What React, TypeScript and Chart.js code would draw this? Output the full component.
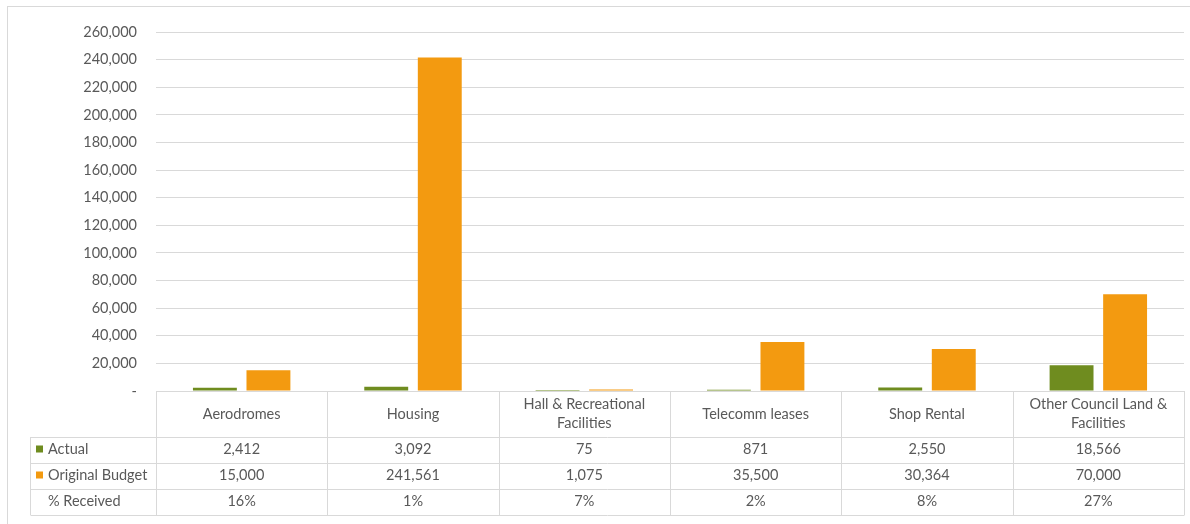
import React, { useEffect, useRef } from 'react';
import { Chart, registerables } from 'chart.js';

Chart.register(...registerables);

const categories = [
  'Aerodromes',
  'Housing',
  'Hall & Recreational Facilities',
  'Telecomm leases',
  'Shop Rental',
  'Other Council Land & Facilities',
];
const actual = [2412, 3092, 75, 871, 2550, 18566];
const originalBudget = [15000, 241561, 1075, 35500, 30364, 70000];
const percentReceived = [16, 1, 7, 2, 8, 27];
const seriesNames = ['Actual', 'Original Budget', '% Received'];

const GREEN = '#6F8C1F';
const ORANGE = '#F39A10';
const TEXT = '#595959';
const LINE = '#D9D9D9';
const FONT_SIZE = 14.5;
const FONT = FONT_SIZE + 'px Lato';

const fmt = (v: number) => v.toLocaleString('en-US');

function wrap(ctx: CanvasRenderingContext2D, text: string, maxW: number): string[] {
  const words = text.split(' ');
  const lines: string[] = [];
  let cur = '';
  for (const w of words) {
    const test = cur ? cur + ' ' + w : w;
    if (ctx.measureText(test).width > maxW && cur) {
      lines.push(cur);
      cur = w;
    } else cur = test;
  }
  if (cur) lines.push(cur);
  return lines;
}

const tablePlugin = {
  id: 'dataTable',
  afterDraw(chart: any) {
    const ctx: CanvasRenderingContext2D = chart.ctx;
    const area = chart.chartArea;
    const xs = chart.scales.x;
    const n = categories.length;
    const colW = (area.right - area.left) / n;
    const top = Math.round(area.bottom);
    const headerH = 46;
    const rowH = 26;
    const labelLeft = 30;
    const rows = [actual.map(fmt), originalBudget.map(fmt), percentReceived.map((p) => p + '%')];
    const bottom = top + headerH + rowH * rows.length;

    ctx.save();
    ctx.strokeStyle = LINE;
    ctx.lineWidth = 1;
    ctx.strokeRect(7.5, 6.5, 1300, 700);

    ctx.beginPath();
    const L = Math.round(area.left) + 0.5;
    const R = Math.round(area.right) + 0.5;
    ctx.moveTo(L, top + 0.5);
    ctx.lineTo(R, top + 0.5);
    for (let r = 0; r <= rows.length; r++) {
      const y = top + headerH + rowH * r + 0.5;
      ctx.moveTo(labelLeft + 0.5, y);
      ctx.lineTo(R, y);
    }
    for (let i = 0; i <= n; i++) {
      const x = Math.round(xs.getPixelForValue(Math.min(i, n - 1)) + (i === n ? colW / 2 : -colW / 2)) + 0.5;
      ctx.moveTo(x, top);
      ctx.lineTo(x, bottom);
    }
    ctx.moveTo(labelLeft + 0.5, top + headerH);
    ctx.lineTo(labelLeft + 0.5, bottom);
    ctx.stroke();

    ctx.font = FONT;
    ctx.fillStyle = TEXT;
    ctx.textAlign = 'center';
    ctx.textBaseline = 'middle';
    categories.forEach((c, i) => {
      const cx = xs.getPixelForValue(i);
      const lines = wrap(ctx, c, colW - 24);
      const lh = 19;
      const cy = top + headerH / 2 - ((lines.length - 1) * lh) / 2;
      lines.forEach((ln, k) => ctx.fillText(ln, cx, cy + k * lh));
    });
    rows.forEach((row, r) => {
      const cy = top + headerH + rowH * r + rowH / 2 - 0.5;
      row.forEach((v, i) => ctx.fillText(v, xs.getPixelForValue(i), cy));
    });
    ctx.textAlign = 'left';
    const markers = [GREEN, ORANGE, null];
    seriesNames.forEach((s, r) => {
      const cy = top + headerH + rowH * r + rowH / 2 - 0.5;
      const m = markers[r];
      if (m) {
        ctx.fillStyle = m;
        ctx.fillRect(36, cy - 4, 7, 7);
      }
      ctx.fillStyle = TEXT;
      ctx.fillText(s, 48, cy);
    });
    ctx.restore();
  },
};

export default function App() {
  const ref = useRef<HTMLCanvasElement>(null);
  useEffect(() => {
    if (!ref.current) return;
    Chart.defaults.font.family = 'Lato';
    Chart.defaults.font.size = FONT_SIZE;
    Chart.defaults.color = TEXT;
    const chart = new Chart(ref.current, {
      type: 'bar',
      data: {
        labels: categories,
        datasets: [
          {
            label: seriesNames[0],
            data: actual,
            backgroundColor: GREEN,
            borderWidth: 0,
            barPercentage: 0.82,
            categoryPercentage: 0.625,
          },
          {
            label: seriesNames[1],
            data: originalBudget,
            backgroundColor: ORANGE,
            borderWidth: 0,
            barPercentage: 0.82,
            categoryPercentage: 0.625,
          },
        ],
      },
      options: {
        responsive: false,
        animation: false,
        layout: { padding: { top: 32, right: 6, bottom: 133, left: 0 } },
        plugins: { legend: { display: false }, tooltip: { enabled: false } },
        scales: {
          x: { display: false },
          y: {
            min: 0,
            max: 260000,
            afterFit: (scale: any) => {
              scale.width = 156;
            },
            ticks: {
              stepSize: 20000,
              padding: 19,
              color: TEXT,
              font: { family: 'Lato', size: FONT_SIZE },
              callback: (v: any) => (Number(v) === 0 ? '-' : fmt(Number(v))),
            },
            grid: { color: LINE, drawTicks: false },
            border: { display: false },
          },
        },
      },
      plugins: [tablePlugin],
    });
    return () => chart.destroy();
  }, []);
  return (
    <div style={{ position: 'absolute', left: 0, top: 0, width: 1190, height: 524, background: '#fff' }}>
      <canvas ref={ref} width={1190} height={524} />
    </div>
  );
}
